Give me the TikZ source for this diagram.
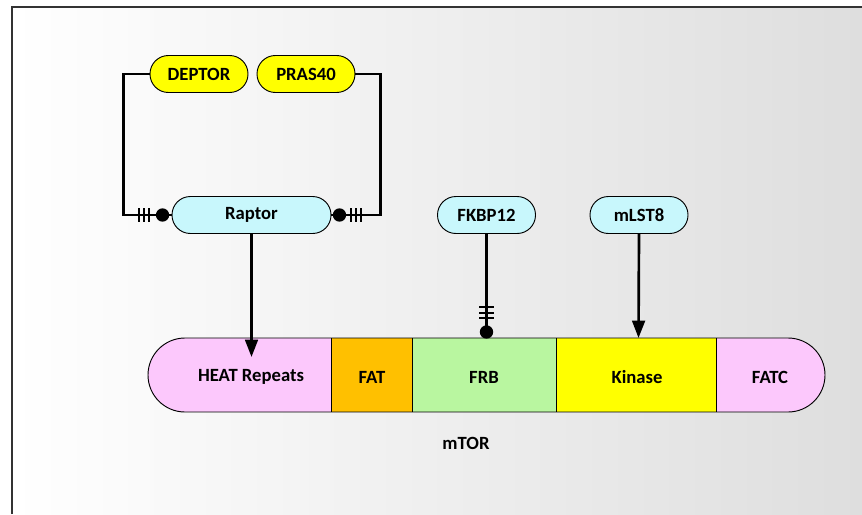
\documentclass[tikz,border=0pt]{standalone}
\usepackage{fontspec}
\setmainfont{Carlito}
\usetikzlibrary{arrows.meta,calc}

\definecolor{bgright}{RGB}{222,222,222}
\definecolor{pillyellow}{RGB}{255,255,0}
\definecolor{pillcyan}{RGB}{200,247,252}
\definecolor{heatpink}{RGB}{252,200,252}
\definecolor{fatorange}{RGB}{255,192,0}
\definecolor{frbgreen}{RGB}{185,246,160}

\begin{document}
\begin{tikzpicture}[x=0.75pt,y=-0.75pt,
		pill/.style={draw=black, line width=0.7pt, rounded corners=13.8pt, minimum width=73.5pt, minimum height=27.75pt, inner sep=0pt, font=\bfseries\fontsize{14}{16}\selectfont},
		lbl/.style={font=\bfseries\fontsize{14}{16}\selectfont},
		link/.style={line width=2pt},
		arrow/.style={link, -{Triangle[length=13pt,width=9.5pt]}},
		bar/.style={line width=1.5pt}]
				\useasboundingbox (0,0) rectangle (862,514);
				\shade[left color=white, right color=bgright] (12,7) rectangle (862,514);
				\draw[line width=1pt, black!80] (12,514) -- (12,7) -- (862,7);
				
				\node[pill, fill=pillyellow] (deptor) at (199,74) {DEPTOR};
				\node[pill, fill=pillyellow] (pras) at (306,74) {PRAS40};
				\node[pill, fill=pillcyan, minimum width=119.25pt] (raptor) at (251.5,215) {Raptor};
				\node[pill, fill=pillcyan] (fkbp) at (486.5,215) {FKBP12};
				\node[pill, fill=pillcyan] (mlst) at (639,215) {mLST8};
				
				\begin{scope}
					\clip[rounded corners=27.75pt] (148,338) rectangle (825,412);
					\fill[heatpink] (148,338) rectangle (331,412);
					\fill[fatorange] (331,338) rectangle (412,412);
					\fill[frbgreen] (412,338) rectangle (556,412);
					\fill[pillyellow] (556,338) rectangle (716,412);
					\fill[heatpink] (716,338) rectangle (825,412);
				\end{scope}
				\draw[line width=0.7pt, rounded corners=27.75pt] (148,338) rectangle (825,412);
				\foreach \x in {331,412,556,716}
					\draw[line width=0.7pt] (\x,338) -- (\x,412);
				
				\node[lbl] (heat) at (251,377) {HEAT Repeats};
				\node[lbl] (fat) at (372,377) {FAT};
				\node[lbl] (frb) at (484,377) {FRB};
				\node[lbl] (kinase) at (637,377) {Kinase};
				\node[lbl] (fatc) at (770,377) {FATC};
				\node[lbl] (mtor) at (466,443) {mTOR};
				
				\coordinate (heatin) at (251.5,357);
				\coordinate (frbtop) at (486.5,338);
				\coordinate (kinasetop) at (638.5,338);
				
				\draw[link] (deptor.west) -- ++(-26,0) |- (raptor.west);
				\draw[link] (pras.east) -- ++(25,0) |- (raptor.east);
				\draw[link] (fkbp.south) -- (frbtop);
				\draw[arrow] (raptor.south) -- (heatin);
				\draw[arrow] (mlst.south) -- (kinasetop);
				
				\fill [black] ($(raptor.west)+(-9,0)$) circle (5pt);
				\fill [black] ($(raptor.east)+(8,0)$) circle (5pt);
				\fill [black] ($(frbtop)+(0,-6)$) circle (5pt);
				\foreach \d in {23,28,33}
					\draw[bar] ($(raptor.west)+(-\d,-7)$) -- ++(0,14);
				\foreach \d in {20,25,30}
					\draw[bar] ($(raptor.east)+(\d,-7)$) -- ++(0,14);
				\foreach \d in {20,25.5,31}
					\draw[bar] ($(frbtop)+(-7.5,-\d)$) -- ++(15,0);
			\end{tikzpicture}
\end{document}
